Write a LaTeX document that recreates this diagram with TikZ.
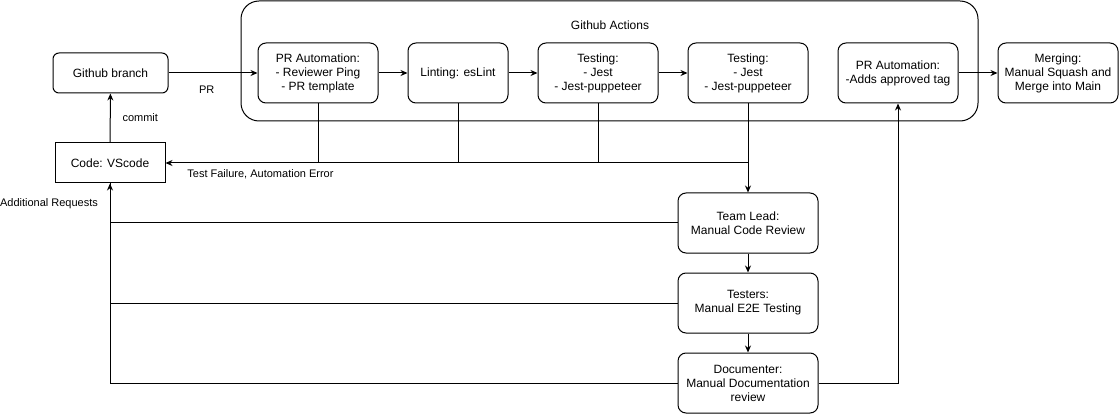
\documentclass[tikz,border=0pt]{standalone}
\usepackage{fontspec}
\setmainfont{Liberation Sans}
\usetikzlibrary{arrows.meta,calc}
\begin{document}
\begin{tikzpicture}[x=1pt,y=-1pt,
  line width=1pt,
  box/.style={draw, rounded corners=8pt, minimum width=120pt, minimum height=60pt, align=center, inner sep=1pt, font=\fontsize{12}{14}\selectfont},
  sbox/.style={draw, rounded corners=6pt, minimum height=40pt, align=center, inner sep=1pt, font=\fontsize{12}{14}\selectfont},
  lbl/.style={font=\fontsize{11}{13}\selectfont, inner sep=1pt},
  arr/.style={-{Stealth[length=7pt,width=6pt]}}
]
\useasboundingbox (0,0) rectangle (1119,414);
% container
\node[draw, rounded corners=18pt, minimum width=737pt, minimum height=120pt] (gha) at (609.5,61) {};
\node[font=\fontsize{12}{14}\selectfont] (ghalbl) at (610,25) {Github Actions};
% nodes
\node[sbox, minimum width=115pt] (gb) at (110.5,73) {Github branch};
\node[sbox, rounded corners=0pt, minimum width=110pt] (code) at (110,163) {Code: VScode};
\node[box] (pra) at (318,73) {PR Automation:\\- Reviewer Ping\\- PR template};
\node[box, minimum width=100pt] (lint) at (458,73) {Linting: esLint};
\node[box] (t1) at (598,73) {Testing:\\- Jest\\- Jest-puppeteer};
\node[box] (t2) at (748,73) {Testing:\\- Jest\\- Jest-puppeteer};
\node[box] (pra2) at (898,73) {PR Automation:\\-Adds approved tag};
\node[box] (merge) at (1058,73) {Merging:\\Manual Squash and\\Merge into Main};
\node[box, minimum width=140pt] (tl) at (748,223) {Team Lead:\\Manual Code Review};
\node[box, minimum width=140pt] (test) at (748,303) {Testers:\\Manual E2E Testing};
\node[box, minimum width=140pt] (doc) at (748,383) {Documenter:\\Manual Documentation\\review};
% edges top row
\draw[arr] (gb) -- node[lbl, pos=0.43, yshift=-17pt] {PR} (pra);
\draw[arr] (pra) -- (lint);
\draw[arr] (lint) -- (t1);
\draw[arr] (t1) -- (t2);
\draw[arr] (pra2) -- (merge);
\draw[arr] (code) -- node[lbl, midway, xshift=30pt] {commit} (gb);
% failure feedback
\draw (pra.south) -- (pra.south |- code.east);
\draw (lint.south) -- (lint.south |- code.east);
\draw (t1.south) -- (t1.south |- code.east);
\draw[arr] (t2.south) -- (t2.south |- code.east) -- node[lbl, pos=0.837, yshift=-11pt] {Test Failure, Automation Error} (code.east);
\draw[arr] (t2.south) -- (tl.north);
% manual chain
\draw[arr] (tl) -- (test);
\draw[arr] (test) -- (doc);
\draw (tl.west) -| (code.south);
\draw (test.west) -| (code.south);
\draw[arr] (doc.west) -| (code.south);
\draw[arr] (doc.east) -| (pra2.south);
\node[lbl] (addreq) at (49,204) {Additional Requests};
\end{tikzpicture}
\end{document}
